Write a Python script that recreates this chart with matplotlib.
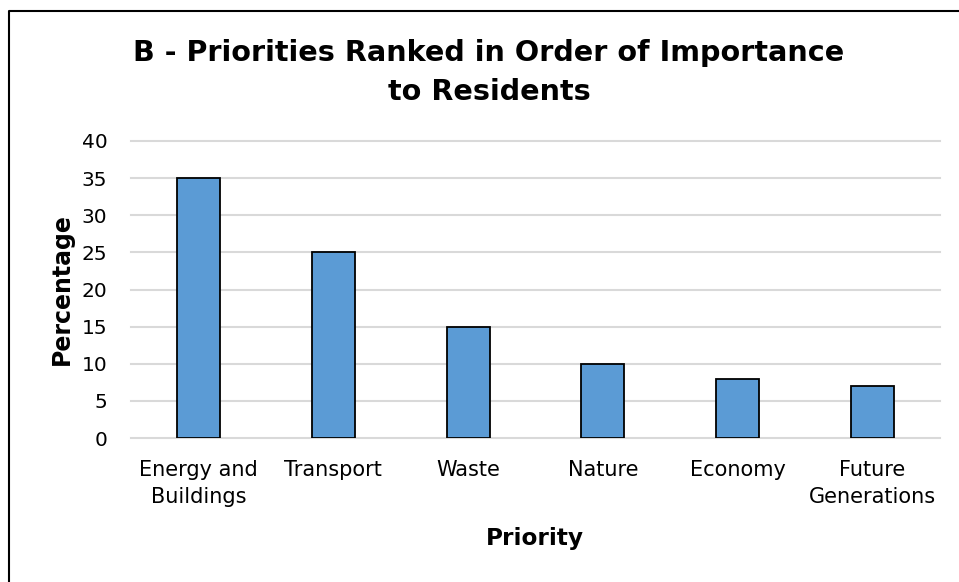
import matplotlib
matplotlib.use("Agg")
import matplotlib.pyplot as plt
from matplotlib.lines import Line2D
import numpy as np

categories = ["Energy and\nBuildings", "Transport", "Waste", "Nature", "Economy", "Future\nGenerations"]
percentages = [35, 25, 15, 10, 8, 7]
y_ticks = [0, 5, 10, 15, 20, 25, 30, 35, 40]

W, H = 959, 582
fig = plt.figure(figsize=(W / 100, H / 100), dpi=100)
fig.patch.set_facecolor("white")

# plot area in pixel coordinates: x 131..940, y 141..438
ax = fig.add_axes([131 / W, 1 - 438 / H, (940 - 131) / W, (438 - 141) / H])

x = np.arange(len(categories))
ax.bar(x, percentages, width=0.32, color="#5b9bd5", edgecolor="black", linewidth=1.3, zorder=3)

ax.set_xlim(-0.5, len(categories) - 0.5)
ax.set_ylim(0, 40)
ax.set_yticks(y_ticks)
ax.set_yticklabels([str(v) for v in y_ticks], fontsize=14.5)
ax.set_xticks(x)
ax.set_xticklabels(categories, fontsize=15, linespacing=1.4)
ax.tick_params(length=0)
ax.tick_params(axis="x", pad=16)
ax.tick_params(axis="y", pad=17)

# full-width gridlines, top and bottom ones included
ax.grid(axis="y", color="#d9d9d9", linewidth=1.5, zorder=0)
for gl in ax.get_ygridlines():
    gl.set_clip_on(False)
for s in ax.spines.values():
    s.set_visible(False)

title_kw = dict(ha="center", va="baseline", fontsize=20.6, fontweight="bold")
fig.text(489 / W, 1 - 61 / H, "B - Priorities Ranked in Order of Importance", **title_kw)
fig.text(489 / W, 1 - 100 / H, "to Residents", **title_kw)

fig.text(62 / W, 1 - 289 / H, "Percentage", ha="center", va="center", rotation=90,
         fontsize=17, fontweight="bold")
fig.text(535 / W, 1 - 539 / H, "Priority", ha="center", va="center",
         fontsize=16.7, fontweight="bold")

# outer frame (runs off the right and bottom edges)
frame = Line2D([9 / W, 9 / W, 1.0], [0.0, 1 - 10.5 / H, 1 - 10.5 / H],
               transform=fig.transFigure, color="black", linewidth=1.5)
fig.add_artist(frame)

fig.savefig("out.png", dpi=100)
